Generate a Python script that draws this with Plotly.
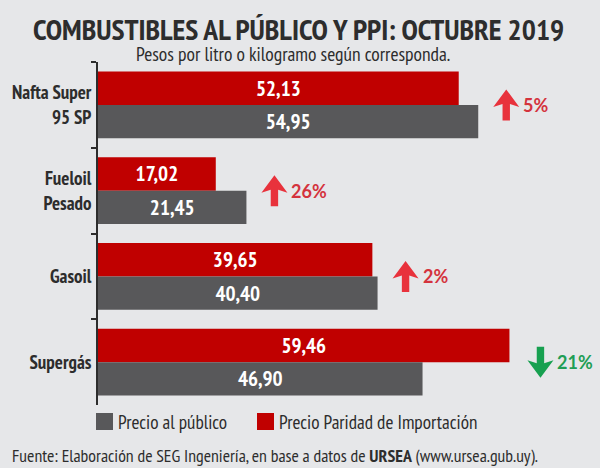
import plotly.graph_objects as go

categories = ["Nafta Super<br>95 SP", "Fueloil<br>Pesado", "Gasoil", "Supergás"]
precio_publico = [54.95, 21.45, 40.40, 46.90]
precio_ppi = [52.13, 17.02, 39.65, 59.46]
variacion_labels = ["5%", "26%", "2%", "21%"]
variacion_dir = ["up", "up", "up", "down"]

BG = "#e6e7e9"
RED = "#c00000"
GRAY = "#58585a"
DARK = "#2d2d2d"
COND = "PT Sans Narrow, Open Sans Condensed, sans-serif"
PCT = "Lato, Open Sans, sans-serif"

W, H = 600, 468
ML, MR, MT, MB = 98, 10, 62, 63
plot_w = W - ML - MR
plot_h = H - MT - MB


def px_x(p):
    return (p - ML) / plot_w


def px_y(p):
    return (H - MB - p) / plot_h


def fmt(v):
    return f"{v:.2f}".replace(".", ",")


fig = go.Figure()
fig.add_trace(go.Bar(
    y=categories, x=precio_ppi, orientation="h", name="Precio Paridad de Importación",
    marker=dict(color=RED, line=dict(width=0)),
    text=[fmt(v) for v in precio_ppi], textposition="inside", insidetextanchor="middle",
    textfont=dict(color="white", size=21, family=COND, weight="bold"),
    showlegend=False, hoverinfo="skip",
))
fig.add_trace(go.Bar(
    y=categories, x=precio_publico, orientation="h", name="Precio al público",
    marker=dict(color=GRAY, line=dict(width=0)),
    text=[fmt(v) for v in precio_publico], textposition="inside", insidetextanchor="middle",
    textfont=dict(color="white", size=21, family=COND, weight="bold"),
    showlegend=False, hoverinfo="skip",
))

up_pts = [(0, 15.5), (13, -2), (3.7, 1), (3.7, -15.5), (-3.7, -15.5), (-3.7, 1), (-13, -2)]

for i, cat in enumerate(categories):
    xm = max(precio_publico[i], precio_ppi[i])
    up = variacion_dir[i] == "up"
    fill = "#e8323c" if up else "#17a050"
    tcol = "#d4333d" if up else "#1f9e55"
    shift = 28 if up else 31
    sign = 1 if up else -1
    path = "M " + " L ".join(f"{px + shift} {sign * py}" for px, py in up_pts) + " Z"
    fig.add_shape(type="path", path=path, xref="x", yref="y",
                  xsizemode="pixel", ysizemode="pixel", xanchor=xm, yanchor=i,
                  fillcolor=fill, line=dict(width=0))
    fig.add_annotation(x=xm, y=i, xref="x", yref="y", text=f"<b>{variacion_labels[i]}</b>",
                       showarrow=False, xanchor="left", xshift=shift + 15,
                       font=dict(size=18, color=tcol, family=PCT))

# title / subtitle / footer
fig.add_annotation(x=px_x(298.5), y=px_y(28.5), xref="paper", yref="paper",
                   text="<b>COMBUSTIBLES AL PÚBLICO Y PPI: OCTUBRE 2019</b>",
                   showarrow=False, xanchor="center", yanchor="middle",
                   font=dict(size=29.6, color=DARK, family=COND))
fig.add_annotation(x=px_x(293), y=px_y(53.5), xref="paper", yref="paper",
                   text="Pesos por litro o kilogramo según corresponda.",
                   showarrow=False, xanchor="center", yanchor="middle",
                   font=dict(size=19.5, color=DARK, family=COND))
fig.add_annotation(x=px_x(10), y=px_y(455), xref="paper", yref="paper",
                   text="Fuente: Elaboración de SEG Ingeniería, en base a datos de <b>URSEA</b> (www.ursea.gub.uy).",
                   showarrow=False, xanchor="left", yanchor="middle",
                   font=dict(size=17.8, color=DARK, family=COND))

# legend (manual)
legend_items = [("Precio al público", GRAY), ("Precio Paridad de Importación", RED)]
sq = [(96, 113), (257, 274)]
for (label, color), (x0, x1) in zip(legend_items, sq):
    fig.add_shape(type="rect", xref="paper", yref="paper", x0=px_x(x0), x1=px_x(x1),
                  y0=px_y(430), y1=px_y(413), fillcolor=color, line=dict(width=0))
    fig.add_annotation(text=label, xref="paper", yref="paper", x=px_x(x1 + 3), y=px_y(422),
                       showarrow=False, xanchor="left", yanchor="middle",
                       font=dict(size=19.2, color=DARK, family=COND))

fig.update_layout(
    width=W, height=H,
    margin=dict(l=ML, r=MR, t=MT, b=MB, autoexpand=False),
    paper_bgcolor=BG, plot_bgcolor=BG,
    barmode="group", bargap=0.22, bargroupgap=0,
    xaxis=dict(range=[0, 71.1], visible=False, fixedrange=True),
    yaxis=dict(type="category", autorange="reversed", showline=True, linecolor=DARK, linewidth=1.5,
               ticks="outside", tickson="boundaries", ticklen=5, tickcolor=DARK, tickwidth=1.5,
               showgrid=False, automargin=False, fixedrange=True,
               tickfont=dict(size=19, color=DARK, family=COND, weight="bold"),
               ticklabelstandoff=1),
    showlegend=False,
)

fig.write_html("out.html", config={"displayModeBar": False},
               post_script="document.body.style.margin='0';document.body.style.background='#e6e7e9';")
